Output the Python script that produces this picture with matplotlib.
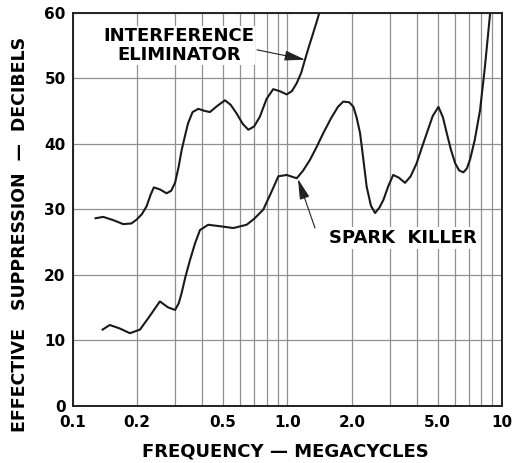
import numpy as np
import matplotlib
matplotlib.use("Agg")
import matplotlib.pyplot as plt
from matplotlib.ticker import FixedLocator, NullFormatter

# values (frequency in Mc, suppression in dB)
elim_freq = [0.128, 0.139, 0.155, 0.172, 0.188, 0.199, 0.210, 0.221, 0.231, 0.239, 0.255,
             0.274, 0.288, 0.300, 0.312, 0.322, 0.335, 0.345, 0.362, 0.385, 0.410, 0.436,
             0.470, 0.512, 0.545, 0.580, 0.620, 0.658, 0.700, 0.745, 0.800, 0.859, 0.920,
             0.993, 1.05, 1.105, 1.16, 1.208, 1.26, 1.32, 1.37, 1.41]
elim_db = [28.6, 28.8, 28.3, 27.7, 27.8, 28.4, 29.2, 30.4, 32.2, 33.3, 33.0,
           32.4, 32.8, 34.0, 36.5, 39.0, 41.4, 43.1, 44.8, 45.3, 45.0, 44.8,
           45.7, 46.6, 45.9, 44.6, 43.0, 42.1, 42.6, 44.1, 46.8, 48.3, 48.0,
           47.5, 48.0, 49.2, 50.8, 52.8, 54.8, 56.9, 58.6, 60.0]

spark_freq = [0.138, 0.149, 0.165, 0.185, 0.206, 0.228, 0.255, 0.278, 0.300, 0.312,
              0.322, 0.335, 0.352, 0.372, 0.392, 0.428, 0.480, 0.560, 0.646, 0.700,
              0.772, 0.840, 0.908, 0.993, 1.105, 1.18, 1.274, 1.37, 1.47, 1.60,
              1.72, 1.82, 1.94, 2.03, 2.10, 2.18, 2.26, 2.34, 2.45, 2.56, 2.68,
              2.80, 2.95, 3.11, 3.30, 3.53, 3.75, 4.00, 4.22, 4.46, 4.75, 5.05,
              5.30, 5.52, 5.78, 6.04, 6.30, 6.60, 6.85, 7.08, 7.45, 7.89, 8.30, 8.79]
spark_db = [11.6, 12.3, 11.8, 11.05, 11.6, 13.6, 15.9, 15.0, 14.6, 15.6,
            17.2, 19.6, 22.2, 24.8, 26.8, 27.6, 27.4, 27.1, 27.6, 28.5,
            29.9, 32.5, 35.0, 35.2, 34.7, 35.8, 37.5, 39.5, 41.6, 43.9,
            45.6, 46.4, 46.3, 45.6, 44.0, 41.6, 37.5, 33.4, 30.5, 29.4, 30.2,
            31.4, 33.5, 35.2, 34.8, 34.0, 35.0, 37.0, 39.3, 41.6, 44.2, 45.6,
            44.0, 41.6, 39.0, 37.0, 35.9, 35.6, 36.2, 37.5, 40.5, 45.1, 51.5, 59.9]

x_ticks = [0.1, 0.2, 0.5, 1.0, 2.0, 5.0, 10]
x_tick_labels = ["0.1", "0.2", "0.5", "1.0", "2.0", "5.0", "10"]
y_ticks = [0, 10, 20, 30, 40, 50, 60]

plt.rcParams['font.family'] = ['DejaVu Sans']

fig = plt.figure(figsize=(5.22, 4.63), dpi=100)
ax = fig.add_axes([0.139, 0.124, 0.823, 0.849])

ax.set_xscale('log')
ax.set_xlim(0.1, 10)
ax.set_ylim(0, 60)

# grid: every minor decade line, and every 10 dB
minor = [m * d for d in (0.1, 1.0) for m in range(2, 10)] + [1.0]
ax.xaxis.set_major_locator(FixedLocator(x_ticks))
ax.xaxis.set_minor_locator(FixedLocator(minor))
ax.xaxis.set_minor_formatter(NullFormatter())
ax.set_xticklabels(x_tick_labels)
ax.set_yticks(y_ticks)
ax.grid(True, which='both', axis='x', color='#909090', lw=0.9)
ax.grid(True, which='major', axis='y', color='#909090', lw=0.9)
ax.tick_params(which='both', length=0, labelsize=11)
ax.tick_params(axis='y', pad=5)
ax.tick_params(axis='x', pad=7)
for lab in ax.get_xticklabels() + ax.get_yticklabels():
    lab.set_fontweight('bold')
for sp in ax.spines.values():
    sp.set_linewidth(1.4)
    sp.set_color('#222222')

ax.plot(elim_freq, elim_db, color='#1a1a1a', lw=1.5)
ax.plot(spark_freq, spark_db, color='#1a1a1a', lw=1.5)

arrow = dict(arrowstyle='-|>,head_length=0.9,head_width=0.22', color='#222222', lw=0.8,
             shrinkA=0, shrinkB=0, mutation_scale=14)
ax.text(0.3126, 55.0, "INTERFERENCE\nELIMINATOR", fontsize=13, fontweight='bold',
        ha='center', va='center', multialignment='center', linespacing=1.05,
        bbox=dict(boxstyle='square,pad=0.05', fc='white', ec='none'))
ax.annotate("", xy=(1.21, 52.8), xytext=(0.722, 54.3), arrowprops=arrow)
ax.annotate("", xy=(1.12, 34.6), xytext=(1.345, 27.1), arrowprops=arrow)
ax.text(3.44, 25.6, "SPARK  KILLER", fontsize=13, fontweight='bold',
        ha='center', va='center',
        bbox=dict(boxstyle='square,pad=0.1', fc='white', ec='none'))

ax.set_xlabel("FREQUENCY — MEGACYCLES", fontsize=13, fontweight='bold')
ax.xaxis.label.set_va('center')
ax.xaxis.set_label_coords(0.4945, -0.117)
ax.set_ylabel("EFFECTIVE   SUPPRESSION  —  DECIBELS", fontsize=12.5, fontweight='bold')
ax.yaxis.label.set_va('center')
ax.yaxis.set_label_coords(-0.123, 0.435)

fig.savefig("out.png", dpi=100)
